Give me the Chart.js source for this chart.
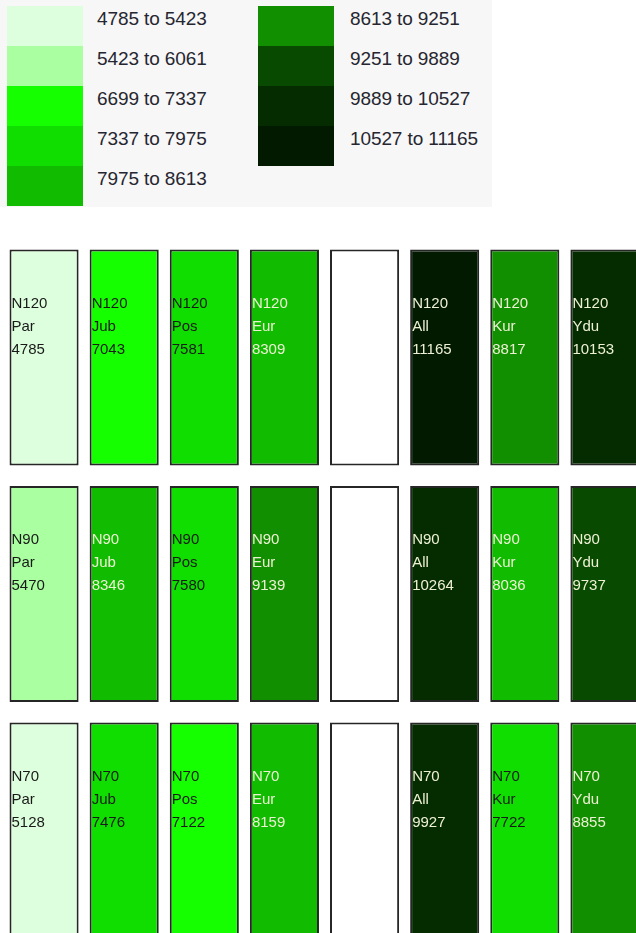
<!DOCTYPE html>
<html>
<head>
<meta charset="utf-8">
<script src="https://cdn.jsdelivr.net/npm/chart.js@4.4.1/dist/chart.umd.min.js"></script>
<style>
    html, body { margin: 0; padding: 0; background: #fff; overflow: hidden; width: 636px; height: 933px; }
    #legend { position: absolute; left: 0; top: 0; width: 492px; height: 207px; background: #f7f7f7; }
    .sw { position: absolute; width: 76px; height: 40px; }
    .lt { position: absolute; font: 19px "Liberation Sans", Arial, sans-serif; color: #262630;
          letter-spacing: -0.1px; line-height: 26px; white-space: nowrap; }
    #wrap { position: absolute; left: 4px; top: 240px; width: 641px; height: 719px; }
</style>
</head>
<body>
<div id="legend"></div>
<div id="wrap"><canvas id="grid" width="641" height="719"></canvas></div>
<script>
// ===== DATOS =====
const categorias = ['Par', 'Jub', 'Pos', 'Eur', '', 'All', 'Kur', 'Ydu'];
const filas = ['N120', 'N90', 'N70'];

const n120 = [4785, 7043, 7581, 8309, null, 11165, 8817, 10153];
const n90  = [5470, 8346, 7580, 9139, null, 10264, 8036, 9737];
const n70  = [5128, 7476, 7122, 8159, null, 9927, 7722, 8855];

// rangos de la leyenda
const binDesde = [4785, 5423, 6699, 7337, 7975, 8613, 9251, 9889, 10527];
const binHasta = [5423, 6061, 7337, 7975, 8613, 9251, 9889, 10527, 11165];
const binColores = ['#ddffdd', '#aaffa0', '#16ff00', '#10dd00', '#10bb00', '#128f00', '#084a00', '#042c00', '#011a00'];

const valores = [n120, n90, n70];

// Color según el rango
function colorPara(v) {
    if (v === null) return '#ffffff';
    for (let i = 0; i < binDesde.length; i++) {
        if (v >= binDesde[i] && v <= binHasta[i]) return binColores[i];
    }
    return '#ffffff';
}

function esOscuro(hex) {
    const r = parseInt(hex.substr(1, 2), 16);
    const g = parseInt(hex.substr(3, 2), 16);
    const b = parseInt(hex.substr(5, 2), 16);
    return (0.299 * r + 0.587 * g + 0.114 * b) < 120;
}

// ===== LEYENDA =====
const legend = document.getElementById('legend');
binDesde.forEach((desde, i) => {
    const col = i < 5 ? 0 : 1;
    const fila = i < 5 ? i : i - 5;
    const sw = document.createElement('div');
    sw.className = 'sw';
    sw.style.left = (col === 0 ? 7 : 258) + 'px';
    sw.style.top = (6 + fila * 40) + 'px';
    sw.style.background = binColores[i];
    legend.appendChild(sw);

    const t = document.createElement('div');
    t.className = 'lt';
    t.style.left = (col === 0 ? 97 : 350) + 'px';
    t.style.top = (6 + fila * 40) + 'px';
    t.textContent = `${desde} to ${binHasta[i]}`;
    legend.appendChild(t);
});

// ===== CUADRÍCULA =====
const altoCelda = 0.913;

const etiquetas = {
    id: 'etiquetas',
    afterDatasetsDraw(chart) {
        const ctx = chart.ctx;
        ctx.save();
        ctx.font = '15px "Liberation Sans", Arial, sans-serif';
        ctx.textBaseline = 'middle';
        ctx.textAlign = 'left';
        chart.data.datasets.forEach((ds, d) => {
            const meta = chart.getDatasetMeta(d);
            meta.data.forEach((bar, i) => {
                const v = valores[d][i];
                if (v === null) return;
                const p = bar.getProps(['x', 'y', 'base', 'width'], true);
                const izq = p.x - p.width / 2 + 2;
                const arriba = Math.min(p.y, p.base);
                ctx.fillStyle = esOscuro(colorPara(v)) ? '#eef0d4' : '#1a1a1a';
                [filas[d], categorias[i], String(v)].forEach((txt, k) => {
                    ctx.fillText(txt, izq, arriba + 54 + k * 23);
                });
            });
        });
        ctx.restore();
    }
};

new Chart(document.getElementById('grid'), {
    type: 'bar',
    data: {
        labels: categorias,
        datasets: filas.map((nombre, r) => ({
            label: nombre,
            data: categorias.map(() => [r, r + altoCelda]),
            backgroundColor: valores[r].map(colorPara),
            borderColor: '#262626',
            borderWidth: 2,
            borderSkipped: false,
            barPercentage: 0.8625,
            categoryPercentage: 1,
            grouped: false
        }))
    },
    options: {
        responsive: false,
        animation: false,
        layout: { padding: 0 },
        plugins: {
            legend: { display: false },
            tooltip: { enabled: false }
        },
        scales: {
            x: { display: false },
            y: { display: false, reverse: true, min: -0.04, max: 3 }
        }
    },
    plugins: [etiquetas]
});
</script>
</body>
</html>
